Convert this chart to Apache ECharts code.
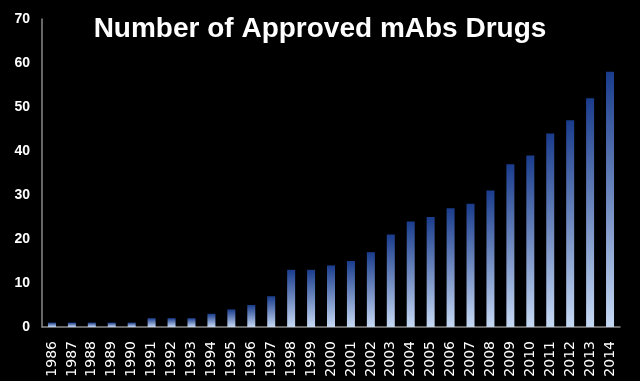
<!DOCTYPE html>
<html><head><meta charset="utf-8">
<script src="https://cdn.jsdelivr.net/npm/echarts@6/dist/echarts.min.js"></script>
<style>html,body{margin:0;padding:0;background:#000}#c{width:640px;height:381px}</style>
</head><body><div id="c"></div>
<script>
const years = ['1986','1987','1988','1989','1990','1991','1992','1993','1994','1995','1996','1997','1998','1999','2000','2001','2002','2003','2004','2005','2006','2007','2008','2009','2010','2011','2012','2013','2014'];
const approved = [1,1,1,1,1,2,2,2,3,4,5,7,13,13,14,15,17,21,24,25,27,28,31,37,39,44,47,52,58];
const yTicks = {min:0, max:70, interval:10};
const titleText = 'Number of Approved mAbs Drugs';

const chart = echarts.init(document.getElementById('c'));
chart.setOption({
  backgroundColor:'#000',
  animation:false,
  title:{text:titleText,left:'center',top:10,textStyle:{color:'#fff',fontFamily:'Liberation Sans',fontWeight:'bold',fontSize:28}},
  grid:{left:42,right:20,top:19,bottom:54},
  xAxis:{type:'category',data:years,
    axisLine:{lineStyle:{color:'#8a8a8a',width:1.5}},axisTick:{show:false},
    axisLabel:{rotate:90,color:'#fff',fontFamily:'DejaVu Sans',fontSize:14,margin:14,interval:0}},
  yAxis:{type:'value',min:yTicks.min,max:yTicks.max,interval:yTicks.interval,
    axisLine:{show:true,lineStyle:{color:'#8a8a8a',width:1.5}},axisTick:{show:false},splitLine:{show:false},
    axisLabel:{color:'#fff',fontFamily:'Liberation Sans',fontWeight:'bold',fontSize:14,margin:12}},
  series:[{type:'bar',data:approved,barWidth:8,
    itemStyle:{color:new echarts.graphic.LinearGradient(0,0,0,1,[{offset:0,color:'#1a3c8c'},{offset:1,color:'#c6d9f4'}])}}]
});
</script></body></html>
